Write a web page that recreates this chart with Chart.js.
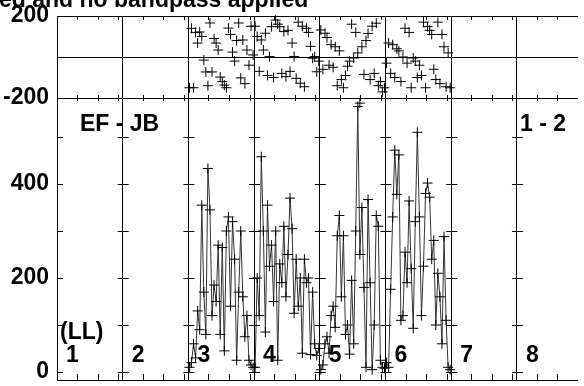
<!DOCTYPE html>
<html>
<head>
<meta charset="utf-8">
<script src="https://cdn.jsdelivr.net/npm/chart.js@4.4.0/dist/chart.umd.min.js"></script>
<style>
  html, body { margin: 0; padding: 0; background: #fff; overflow: hidden; }
  #wrap { position: relative; width: 584px; height: 386px; overflow: hidden; }
  canvas { position: absolute; left: 0; top: 0; }
  .lbl { position: absolute; font: bold 23px "Liberation Sans", Arial, sans-serif; line-height: 23px; color: #000; white-space: nowrap; }
</style>
</head>
<body>
<div id="wrap">
  <canvas id="amp" width="584" height="386"></canvas>
  <canvas id="phase" width="584" height="386"></canvas>
  <div class="lbl" style="left:-1px;top:-12px">ed and no bandpass applied</div>
  <div class="lbl" style="left:80px;top:112px">EF - JB</div>
  <div class="lbl" style="left:520px;top:112px">1 - 2</div>
  <div class="lbl" style="left:60px;top:320px">(LL)</div>
</div>
<script>
// IF labels along the bottom, 64 channels per IF
const ifNames = ['1', '2', '3', '4', '5', '6', '7', '8'];
const chansPerIF = 64;
const chanOffsets = [1, 3, 5, 7, 9, 11, 13, 15, 17, 19, 21, 23, 25, 27, 29, 31,
                     33, 35, 37, 39, 41, 43, 45, 47, 49, 51, 53, 55, 57, 59, 61, 63];

// amplitude per channel (only IFs 3-6 have data)
const ampIF3 = [10, 20, 60, 30, 130, 90, 355, 170, 80, 433, 345, 120, 185, 150, 270, 80,
                265, 45, 300, 330, 140, 320, 240, 25, 170, 300, 160, 75, 120, 25, 15, 10];
const ampIF4 = [10, 200, 120, 458, 300, 85, 355, 225, 270, 150, 300, 25, 230, 190, 310, 160,
                250, 370, 305, 125, 240, 140, 200, 40, 240, 190, 200, 37, 170, 60, 35, 50];
const ampIF5 = [5, 15, 60, 75, 40, 120, 140, 95, 290, 333, 160, 290, 80, 100, 38, 195,
                60, 300, 565, 250, 350, 180, 10, 367, 190, 5, 100, 333, 310, 25, 10, 8];
const ampIF6 = [20, 10, 176, 330, 472, 378, 462, 110, 120, 255, 190, 364, 220, 93, 320, 510,
                330, 120, 225, 380, 402, 372, 240, 280, 100, 210, 160, 60, 288, 110, 10, 5];

// phase (degrees) per channel
const phaseIF3 = [-150, 140, -150, 120, 68, 122, 100, -15, -73, -140, 166, -73, 90, 68, 34, -98,
                  -120, -137, -150, 141, 110, 24, -20, 80, 166, -102, 83, -130, 34, -40, 150, 10];
const phaseIF4 = [150, 100, -70, 83, 34, 116, -90, 2, 148, -100, 180, 160, 148, -80, 124, -96,
                  130, -70, 68, 2, -104, 170, -128, 150, -145, 140, 120, 52, -6, 2, -72, -20];
const phaseIF5 = [132, -60, 116, 95, -40, 60, -50, 50, -140, 30, -110, -150, -90, -45, -20, 160,
                  -5, 120, 20, -225, 50, -85, 80, 115, -110, 150, -80, 165, -140, -120, -170, -150];
const phaseIF6 = [-30, 68, -80, 60, -100, 40, 30, -120, 0, 140, -30, 120, -150, -5, -20, -100,
                  -40, -90, 170, -150, 148, 130, 110, -60, -110, 170, -130, 110, 50, -145, 20, -150];

const ampTicks = [0, 100, 200, 300, 400, 500];
const phaseTicks = [-200, 0, 200];

// turn per-IF lists into {x,y} points, with a gap after each IF
function buildPoints(sets) {
  const pts = [];
  sets.forEach(([ifNum, vals]) => {
    const base = (ifNum - 1) * chansPerIF;
    vals.forEach((v, j) => pts.push({ x: base + chanOffsets[j], y: v }));
    pts.push({ x: base + chansPerIF, y: null });
  });
  return pts;
}

const ampPoints = buildPoints([[3, ampIF3], [4, ampIF4], [5, ampIF5], [6, ampIF6]]);
const phasePoints = buildPoints([[3, phaseIF3], [4, phaseIF4], [5, phaseIF5], [6, phaseIF6]]);

const FONT = { family: '"Liberation Sans", Arial, sans-serif', size: 23, weight: 'bold' };
const xMax = 507.5;

// frame lines and the little tick marks
const frameTicks = {
  id: 'frameTicks',
  afterDraw(chart, args, opts) {
    const { ctx, chartArea: a, scales: { x, y } } = chart;
    const px = v => Math.floor(v) + 0.5;
    ctx.save();
    ctx.strokeStyle = '#000';
    ctx.lineWidth = 1;
    ctx.beginPath();
    // left, top, bottom edges
    ctx.moveTo(px(a.left), a.top); ctx.lineTo(px(a.left), a.bottom);
    ctx.moveTo(a.left, px(a.top)); ctx.lineTo(a.right, px(a.top));
    ctx.moveTo(a.left, px(a.bottom)); ctx.lineTo(a.right, px(a.bottom));
    // channel ticks on top / bottom edges
    for (let k = 0; k < 8; k++) {
      [20, 40, 60].forEach(off => {
        const xp = x.getPixelForValue(k * chansPerIF + off);
        if (xp > a.right) return;
        if (opts.topTicks) { ctx.moveTo(px(xp), a.top); ctx.lineTo(px(xp), a.top + opts.topTicks); }
        if (opts.bottomTicks) { ctx.moveTo(px(xp), a.bottom - opts.bottomTicks[0]); ctx.lineTo(px(xp), a.bottom + opts.bottomTicks[1]); }
      });
    }
    // value ticks on left axis and IF separators
    (opts.yTicks || []).forEach(v => {
      const yp = px(y.getPixelForValue(v));
      ctx.moveTo(a.left, yp); ctx.lineTo(a.left + 6, yp);
      for (let k = 1; k < 8; k++) {
        const xp = x.getPixelForValue(k * chansPerIF);
        if (xp > a.right) continue;
        ctx.moveTo(xp - 5, yp); ctx.lineTo(xp + 6, yp);
      }
    });
    ctx.stroke();
    ctx.restore();
  }
};

function xScale() {
  return {
    type: 'linear', min: 0, max: xMax,
    afterBuildTicks: s => { s.ticks = ifNames.map((n, i) => ({ value: i * chansPerIF })); },
    afterFit: s => { s.height = 0; s.paddingLeft = 0; s.paddingRight = 0; },
    ticks: { display: false },
    grid: { color: '#000', lineWidth: 1, drawTicks: false },
    border: { display: false }
  };
}

function yScale(min, max, tickVals, showZero) {
  return {
    type: 'linear', min: min, max: max,
    afterBuildTicks: s => { s.ticks = tickVals.map(v => ({ value: v })); },
    afterFit: s => { s.width = 57; s.paddingTop = 0; s.paddingBottom = 0; },
    ticks: {
      font: FONT, color: '#000', padding: 8,
      callback: v => (v % 200 === 0 && (v !== 0 || !showZero)) ? String(v) : ''
    },
    grid: {
      drawTicks: false,
      color: c => (showZero && c.tick && c.tick.value === 0) ? '#000' : 'rgba(0,0,0,0)'
    },
    border: { display: false }
  };
}

const ampChart = new Chart(document.getElementById('amp'), {
  type: 'line',
  data: {
    datasets: [{
      data: ampPoints,
      borderColor: '#333',
      borderWidth: 1,
      pointStyle: 'cross',
      pointRadius: 5,
      pointBorderColor: '#000',
      pointBorderWidth: 1,
      spanGaps: false,
      tension: 0
    }]
  },
  options: {
    responsive: false, animation: false, devicePixelRatio: 1,
    layout: { padding: { top: 98, bottom: 0, left: 0, right: 0 } },
    plugins: {
      legend: { display: false }, tooltip: { enabled: false },
      frameTicks: { topTicks: 0, bottomTicks: [6, 0], yTicks: ampTicks }
    },
    scales: { x: xScale(), y: yScale(-17, 583, ampTicks, false) }
  },
  plugins: [frameTicks]
});

const phaseChart = new Chart(document.getElementById('phase'), {
  type: 'scatter',
  data: {
    datasets: [{
      data: phasePoints,
      showLine: false,
      pointStyle: 'cross',
      pointRadius: 5,
      borderColor: '#000',
      pointBorderColor: '#000',
      pointBorderWidth: 1,
      clip: false
    }]
  },
  options: {
    responsive: false, animation: false, devicePixelRatio: 1,
    layout: { padding: { top: 16, bottom: 288, left: 0, right: 0 } },
    plugins: {
      legend: { display: false }, tooltip: { enabled: false },
      frameTicks: { topTicks: 4, bottomTicks: [3, 3], yTicks: [] }
    },
    scales: { x: xScale(), y: yScale(-200, 200, phaseTicks, true) }
  },
  plugins: [frameTicks]
});

// IF numbers just right of each separator
const wrap = document.getElementById('wrap');
ifNames.forEach((n, i) => {
  const d = document.createElement('div');
  d.className = 'lbl';
  d.textContent = n;
  d.style.left = (ampChart.scales.x.getPixelForValue(i * chansPerIF) + 9) + 'px';
  d.style.top = '343px';
  wrap.appendChild(d);
});
</script>
</body>
</html>
